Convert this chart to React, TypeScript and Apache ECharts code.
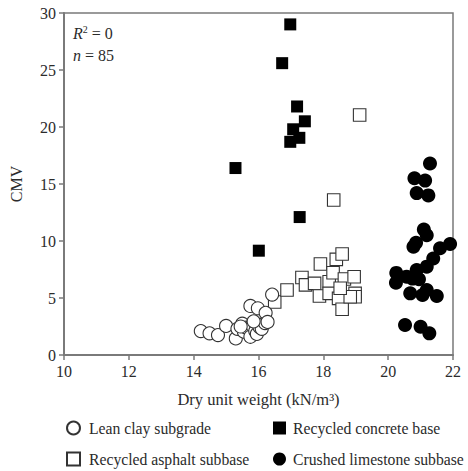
import React, { useEffect, useRef } from "react";
import * as echarts from "echarts";

// Dry unit weight (kN/m³) vs CMV, per material
const leanClay: [number, number][] = [
  [14.22, 2.1], [14.49, 1.9], [14.75, 1.75], [15.0, 2.55], [15.3, 1.45],
  [15.35, 2.3], [15.5, 2.75], [15.55, 2.05], [15.62, 2.4], [15.75, 1.6],
  [15.8, 2.6], [15.9, 2.1], [15.95, 1.85], [16.03, 2.45], [16.1, 2.3],
  [16.2, 2.8], [15.75, 4.3], [15.98, 4.1], [16.22, 3.7], [16.28, 2.9],
  [16.42, 5.3], [15.85, 2.95], [15.45, 2.5],
];

const recycledConcrete: [number, number][] = [
  [16.98, 29.0], [16.73, 25.6], [17.19, 21.8], [17.43, 20.5], [17.07, 19.8],
  [17.26, 19.05], [16.98, 18.7], [15.29, 16.4], [17.27, 12.1], [16.01, 9.15],
];

const recycledAsphalt: [number, number][] = [
  [19.12, 21.05], [18.32, 13.6], [16.5, 4.65], [16.88, 5.7], [17.34, 6.8],
  [17.45, 6.15], [17.73, 6.28], [17.91, 7.98], [17.88, 5.18], [18.18, 6.43],
  [18.3, 7.22], [18.18, 5.41], [18.4, 8.39], [18.58, 8.86], [18.65, 6.67],
  [18.47, 4.97], [18.58, 4.01], [18.95, 6.87], [18.98, 5.41], [18.98, 5.11],
  [18.83, 5.11], [18.52, 5.85],
];

const crushedLimestone: [number, number][] = [
  [21.29, 16.8], [20.81, 15.5], [21.14, 15.3], [20.88, 14.2], [21.24, 14.0],
  [21.1, 11.0], [21.19, 10.5], [20.86, 9.85], [20.78, 9.5], [21.91, 9.74],
  [21.6, 9.36], [21.39, 8.47], [21.19, 7.75], [20.88, 7.46], [20.25, 7.2],
  [20.57, 6.87], [20.75, 6.7], [20.95, 6.64], [20.24, 6.34], [20.68, 5.41],
  [21.06, 5.26], [21.19, 5.7], [21.5, 5.18], [20.52, 2.63], [21.0, 2.48],
  [21.27, 1.9],
];

const xTicks = { min: 10, max: 22, interval: 2 };
const yTicks = { min: 0, max: 30, interval: 5 };

const FONT = "'Liberation Serif', 'DejaVu Serif', serif";
const TEXT = "#2b2b2b";
const AXIS = "#7a7a7a";

function legendAt(name: string, left: number, top: number, gap: number) {
  return {
    orient: "horizontal",
    left,
    top,
    padding: 0,
    itemWidth: 13,
    itemHeight: 13,
    textStyle: {
      fontFamily: FONT,
      fontSize: 15.7,
      color: TEXT,
      padding: [0, 0, 0, gap],
    },
    data: [name],
  };
}

export default function App() {
  const ref = useRef<HTMLDivElement>(null);

  useEffect(() => {
    document.body.style.margin = "0";
    if (!ref.current) return;
    const chart = echarts.init(ref.current, undefined, { renderer: "svg" });

    const open = { color: "#ffffff", borderColor: "#333333", borderWidth: 1.1, opacity: 1 };
    const solid = { color: "#000000", opacity: 1 };

    chart.setOption({
      animation: false,
      textStyle: { fontFamily: FONT, color: TEXT },
      grid: {
        left: 63,
        right: 15,
        top: 13,
        bottom: 116,
        show: true,
        borderColor: AXIS,
        borderWidth: 1.5,
        backgroundColor: "transparent",
      },
      xAxis: {
        type: "value",
        ...xTicks,
        name: "Dry unit weight (kN/m³)",
        nameLocation: "middle",
        nameGap: 36,
        nameTextStyle: { fontFamily: FONT, fontSize: 16.5, color: TEXT },
        axisLine: { show: true, lineStyle: { color: AXIS, width: 2 } },
        axisTick: { show: true, length: 5, lineStyle: { color: AXIS, width: 1.5 } },
        axisLabel: { fontFamily: FONT, fontSize: 16, color: TEXT, margin: 8 },
        splitLine: { show: false },
      },
      yAxis: {
        type: "value",
        ...yTicks,
        name: "CMV",
        nameLocation: "middle",
        nameGap: 40,
        nameRotate: 90,
        nameTextStyle: { fontFamily: FONT, fontSize: 16, color: TEXT },
        axisLine: { show: true, lineStyle: { color: AXIS, width: 2 } },
        axisTick: { show: true, length: 5, lineStyle: { color: AXIS, width: 1.5 } },
        axisLabel: { fontFamily: FONT, fontSize: 16, color: TEXT, margin: 8 },
        splitLine: { show: false },
      },
      legend: [
        legendAt("Lean clay subgrade", 66, 420, 4),
        legendAt("Recycled asphalt subbase", 66, 451, 4),
        legendAt("Recycled concrete base", 273, 420, 2),
        legendAt("Crushed limestone subbase", 273, 451, 2),
      ],
      graphic: [
        {
          type: "text",
          left: 73,
          top: 24,
          style: {
            text: "{i|R}{s|2}{n| = 0}",
            rich: {
              i: { fontFamily: FONT, fontSize: 16, fontStyle: "italic", fill: TEXT },
              s: { fontFamily: FONT, fontSize: 10, fill: TEXT, verticalAlign: "top", padding: [0, 0, 8, 0] },
              n: { fontFamily: FONT, fontSize: 16, fill: TEXT },
            },
          },
        },
        {
          type: "text",
          left: 73,
          top: 47,
          style: {
            text: "{i|n}{n| = 85}",
            rich: {
              i: { fontFamily: FONT, fontSize: 16, fontStyle: "italic", fill: TEXT },
              n: { fontFamily: FONT, fontSize: 16, fill: TEXT },
            },
          },
        },
      ],
      series: [
        {
          name: "Lean clay subgrade",
          type: "scatter",
          symbol: "circle",
          symbolSize: 13,
          itemStyle: open,
          data: leanClay,
          z: 3,
        },
        {
          name: "Recycled concrete base",
          type: "scatter",
          symbol: "rect",
          symbolSize: 12,
          itemStyle: solid,
          data: recycledConcrete,
          z: 2,
        },
        {
          name: "Recycled asphalt subbase",
          type: "scatter",
          symbol: "rect",
          symbolSize: 12.5,
          itemStyle: open,
          data: recycledAsphalt,
          z: 2,
        },
        {
          name: "Crushed limestone subbase",
          type: "scatter",
          symbol: "circle",
          symbolSize: 14,
          itemStyle: solid,
          data: crushedLimestone,
          z: 2,
        },
      ],
    });

    return () => chart.dispose();
  }, []);

  return <div ref={ref} style={{ width: 468, height: 471 }} />;
}
